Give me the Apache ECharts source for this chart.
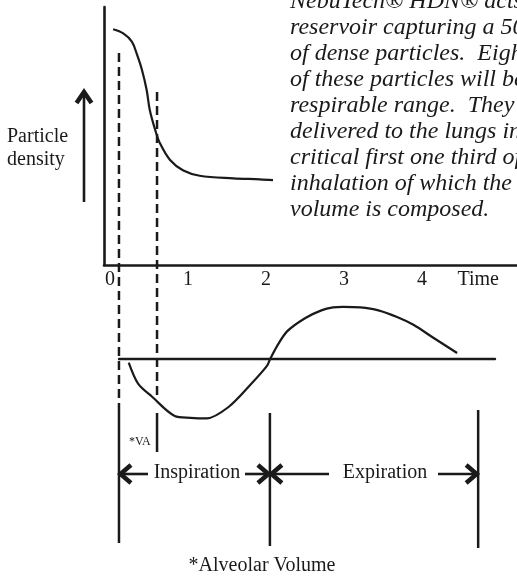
<!DOCTYPE html>
<html>
<head>
<meta charset="utf-8">
<script src="https://cdn.jsdelivr.net/npm/echarts@6/dist/echarts.min.js"></script>
<style>
html,body{margin:0;padding:0;background:#fff;}
#chart{width:517px;height:577px;}
</style>
</head>
<body>
<div id="chart"></div>
<script>
// ---- data ----
const timeTicks = [0, 1, 2, 3, 4];
const timeAxisName = 'Time';
const timeNamePos = 4.72;
const densityTime  = [0.04, 0.17, 0.28, 0.34, 0.41, 0.47, 0.51, 0.58, 0.64, 0.77, 0.94, 1.15, 1.58, 1.92, 2.09];
const densityValue = [91.4, 89.8, 86.6, 82.1, 75.6, 67.8, 60.1, 52.3, 47.2, 40.7, 36.6, 34.6, 33.6, 33.2, 32.9];
const flowTime  = [0.24, 0.36, 0.54, 0.83, 1.03, 1.24, 1.52, 1.80, 2.01, 2.05, 2.14, 2.27, 2.50, 2.71, 2.86, 2.99, 3.21, 3.44, 3.68, 3.89, 4.15, 4.45];
const flowValue = [-0.06, -0.41, -0.63, -0.95, -0.98, -0.99, -0.80, -0.43, -0.12, -0.01, 0.21, 0.46, 0.68, 0.81, 0.86, 0.87, 0.86, 0.81, 0.70, 0.57, 0.35, 0.10];
const breathStart = 0.115;   // start of inspiration
const vaEnd = 0.603;         // end of alveolar-volume window
const inspEnd = 2.05;        // end of inspiration
const expEnd = 4.72;         // end of expiration
const yLabelLines = ['Particle', 'density'];
const phaseLabels = ['Inspiration', 'Expiration'];
const vaLabel = '*VA';
const footnote = '*Alveolar Volume';
const noteLines = [
  'NebuTech\u00AE HDN\u00AE acts as a',
  'reservoir capturing a 50 ml bolus',
  'of dense particles.  Eighty percent',
  'of these particles will be in the',
  'respirable range.  They are',
  'delivered to the lungs in the',
  'critical first one third of the',
  'inhalation of which the alveolar',
  'volume is composed.'
];

// ---- chart ----
const SERIF = '"Liberation Serif", "Times New Roman", serif';
const INK = '#1a1a1a';
const chart = echarts.init(document.getElementById('chart'), null, {renderer: 'canvas'});

const pxPerUnit = 78, zeroPx = 110;
const tAt = px => (px - zeroPx) / pxPerUnit;

chart.setOption({
  animation: false,
  backgroundColor: '#fff',
  grid: [
    {left: 104, top: 7, width: 413, height: 258},
    {left: 119, top: 287, width: 376, height: 144}
  ],
  xAxis: [
    {
      gridIndex: 0, type: 'value', min: tAt(104), max: tAt(517),
      axisLine: {show: true, onZero: false, lineStyle: {color: INK, width: 2.6}},
      axisTick: {show: false}, splitLine: {show: false},
      axisLabel: {
        customValues: timeTicks.concat([timeNamePos]),
        formatter: v => (Math.abs(v - timeNamePos) < 1e-6 ? timeAxisName : String(Math.round(v))),
        color: INK, fontFamily: SERIF, fontSize: 20, margin: 5,
        showMinLabel: true, showMaxLabel: true, hideOverlap: false
      }
    },
    {
      gridIndex: 1, type: 'value', min: tAt(119), max: tAt(495),
      axisLine: {show: true, onZero: true, lineStyle: {color: INK, width: 2.4}},
      axisTick: {show: false}, splitLine: {show: false}, axisLabel: {show: false}
    }
  ],
  yAxis: [
    {
      gridIndex: 0, type: 'value', min: 0, max: 100,
      axisLine: {show: true, onZero: false, lineStyle: {color: INK, width: 2.6}},
      axisTick: {show: false}, splitLine: {show: false}, axisLabel: {show: false}
    },
    {
      gridIndex: 1, type: 'value', min: -1.2, max: 1.2,
      axisLine: {show: false, onZero: false}, axisTick: {show: false}, splitLine: {show: false}, axisLabel: {show: false}
    }
  ],
  series: [
    {
      type: 'line', xAxisIndex: 0, yAxisIndex: 0, smooth: 0.35, symbol: 'none',
      lineStyle: {color: INK, width: 2.2},
      data: densityTime.map((t, i) => [t, densityValue[i]])
    },
    {
      type: 'line', xAxisIndex: 1, yAxisIndex: 1, smooth: 0.3, symbol: 'none',
      lineStyle: {color: INK, width: 2.2},
      data: flowTime.map((t, i) => [t, flowValue[i]])
    }
  ]
});

// ---- annotations positioned from the time axis ----
const X = t => chart.convertToPixel({xAxisIndex: 0}, t);
const xs = X(breathStart), xv = X(vaEnd), xi = X(inspEnd), xe = X(expEnd);
const g = [];
const vline = (x, y1, y2, dashed, w) => g.push({
  type: 'line', shape: {x1: x, y1: y1, x2: x, y2: y2},
  style: {stroke: INK, lineWidth: w || 2.5, lineDash: dashed ? [9, 5] : null}
});
vline(xs, 53, 410, true);
vline(xs, 410, 543, false);
vline(xv, 92, 398, true);
vline(xv, 413, 452, false);
vline(xi, 413, 546, false);
vline(xe, 410, 548, false);

// arrows
const AY = 474;
const hline = (x1, x2) => g.push({type: 'line', shape: {x1: x1, y1: AY, x2: x2, y2: AY}, style: {stroke: INK, lineWidth: 2.6}});
const head = (x, dir) => g.push({
  type: 'polyline',
  shape: {points: [[x - dir * 12, AY - 9], [x - dir * 1.5, AY], [x - dir * 12, AY + 9]]},
  style: {stroke: INK, lineWidth: 4.5, fill: null, lineJoin: 'miter'}
});
hline(xs, 148); head(xs, -1);
hline(245, xi); head(xi, 1);
hline(xi, 329); head(xi, -1);
hline(438, xe); head(xe, 1);

// y direction arrow
g.push({type: 'line', shape: {x1: 84, y1: 202, x2: 84, y2: 92}, style: {stroke: INK, lineWidth: 2.6}});
g.push({type: 'polyline', shape: {points: [[76.5, 103], [84, 92], [91.5, 103]]}, style: {stroke: INK, lineWidth: 4.5, fill: null, lineJoin: 'miter'}});

const txt = (text, x, y, opts) => g.push({
  type: 'text', x: x, y: y,
  style: Object.assign({text: text, fill: INK, font: '20px ' + SERIF, textAlign: 'left', textVerticalAlign: 'middle'}, opts || {})
});
txt(yLabelLines[0], 7, 137);
txt(yLabelLines[1], 7, 160);
txt(phaseLabels[0], 197, 473, {textAlign: 'center'});
txt(phaseLabels[1], 385, 473, {textAlign: 'center'});
txt(vaLabel, 129, 442, {font: '12px ' + SERIF});
txt(footnote, 262, 566, {textAlign: 'center'});
txt(noteLines.join('\n'), 290, -11, {font: 'italic 24px ' + SERIF, textVerticalAlign: 'top', lineHeight: 26});

chart.setOption({graphic: g});
</script>
</body>
</html>
